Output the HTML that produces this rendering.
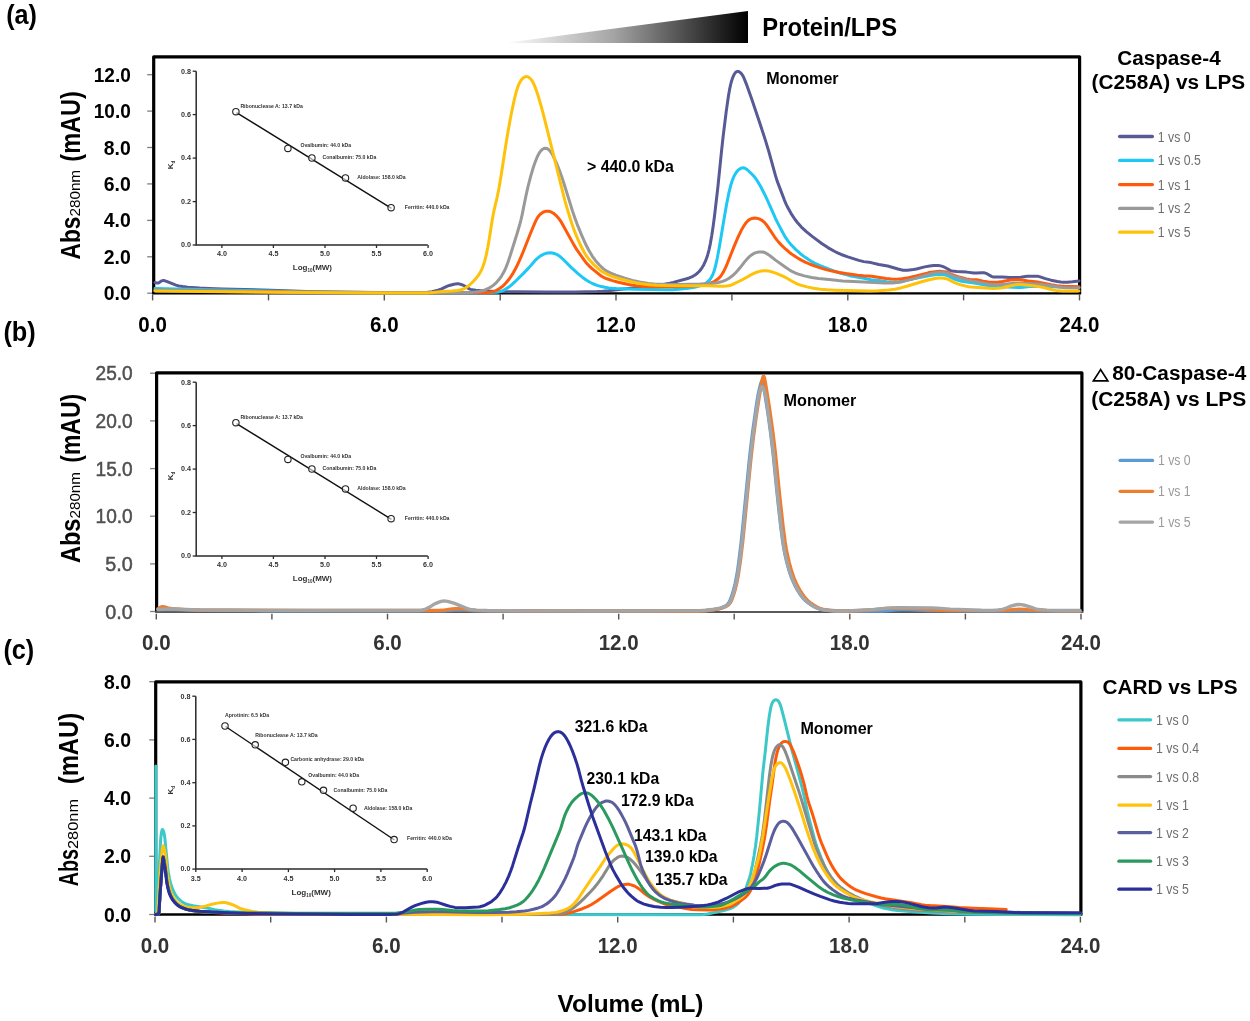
<!DOCTYPE html>
<html><head><meta charset="utf-8"><style>
html,body{margin:0;padding:0;background:#fff;}
svg{display:block;will-change:transform;font-family:"Liberation Sans",sans-serif;}
</style></head><body>
<svg width="1250" height="1021" viewBox="0 0 1250 1021">
<defs><linearGradient id="gr" x1="0" y1="0" x2="1" y2="0"><stop offset="0" stop-color="#fff"/><stop offset="0.45" stop-color="#a4a4a4"/><stop offset="1" stop-color="#000"/></linearGradient></defs>
<text x="6.2" y="23.5" font-size="27.40" font-weight="bold" fill="#000" text-anchor="start" textLength="30.8" lengthAdjust="spacingAndGlyphs">(a)</text>
<text x="3.4" y="341.4" font-size="27.50" font-weight="bold" fill="#000" text-anchor="start" textLength="32.4" lengthAdjust="spacingAndGlyphs">(b)</text>
<text x="3.4" y="658.8" font-size="27.60" font-weight="bold" fill="#000" text-anchor="start" textLength="30.9" lengthAdjust="spacingAndGlyphs">(c)</text>
<polygon points="504,43 748,11 748,43" fill="url(#gr)"/>
<text x="762.3" y="36.0" font-size="25.00" font-weight="bold" fill="#000" text-anchor="start" textLength="134.7" lengthAdjust="spacingAndGlyphs">Protein/LPS</text>
<line x1="147.2" y1="293.2" x2="152.7" y2="293.2" stroke="#7f7f7f" stroke-width="1.30"/>
<text x="130.8" y="300.2" font-size="20.30" font-weight="bold" fill="#000" text-anchor="end" textLength="27.0" lengthAdjust="spacingAndGlyphs">0.0</text>
<line x1="147.2" y1="256.8" x2="152.7" y2="256.8" stroke="#7f7f7f" stroke-width="1.30"/>
<text x="130.8" y="263.8" font-size="20.30" font-weight="bold" fill="#000" text-anchor="end" textLength="27.0" lengthAdjust="spacingAndGlyphs">2.0</text>
<line x1="147.2" y1="220.4" x2="152.7" y2="220.4" stroke="#7f7f7f" stroke-width="1.30"/>
<text x="130.8" y="227.4" font-size="20.30" font-weight="bold" fill="#000" text-anchor="end" textLength="27.0" lengthAdjust="spacingAndGlyphs">4.0</text>
<line x1="147.2" y1="183.9" x2="152.7" y2="183.9" stroke="#7f7f7f" stroke-width="1.30"/>
<text x="130.8" y="190.9" font-size="20.30" font-weight="bold" fill="#000" text-anchor="end" textLength="27.0" lengthAdjust="spacingAndGlyphs">6.0</text>
<line x1="147.2" y1="147.5" x2="152.7" y2="147.5" stroke="#7f7f7f" stroke-width="1.30"/>
<text x="130.8" y="154.5" font-size="20.30" font-weight="bold" fill="#000" text-anchor="end" textLength="27.0" lengthAdjust="spacingAndGlyphs">8.0</text>
<line x1="147.2" y1="111.1" x2="152.7" y2="111.1" stroke="#7f7f7f" stroke-width="1.30"/>
<text x="130.8" y="118.1" font-size="20.30" font-weight="bold" fill="#000" text-anchor="end" textLength="37.0" lengthAdjust="spacingAndGlyphs">10.0</text>
<line x1="147.2" y1="74.7" x2="152.7" y2="74.7" stroke="#7f7f7f" stroke-width="1.30"/>
<text x="130.8" y="81.7" font-size="20.30" font-weight="bold" fill="#000" text-anchor="end" textLength="37.0" lengthAdjust="spacingAndGlyphs">12.0</text>
<line x1="152.6" y1="294.6" x2="152.6" y2="300.4" stroke="#555" stroke-width="1.40"/>
<line x1="268.5" y1="294.6" x2="268.5" y2="300.4" stroke="#555" stroke-width="1.40"/>
<line x1="384.3" y1="294.6" x2="384.3" y2="300.4" stroke="#555" stroke-width="1.40"/>
<line x1="500.2" y1="294.6" x2="500.2" y2="300.4" stroke="#555" stroke-width="1.40"/>
<line x1="616.0" y1="294.6" x2="616.0" y2="300.4" stroke="#555" stroke-width="1.40"/>
<line x1="731.9" y1="294.6" x2="731.9" y2="300.4" stroke="#555" stroke-width="1.40"/>
<line x1="847.8" y1="294.6" x2="847.8" y2="300.4" stroke="#555" stroke-width="1.40"/>
<line x1="963.6" y1="294.6" x2="963.6" y2="300.4" stroke="#555" stroke-width="1.40"/>
<line x1="1079.5" y1="294.6" x2="1079.5" y2="300.4" stroke="#555" stroke-width="1.40"/>
<text x="152.6" y="331.7" font-size="22.60" font-weight="bold" fill="#000" text-anchor="middle" textLength="28.6" lengthAdjust="spacingAndGlyphs">0.0</text>
<text x="384.3" y="331.7" font-size="22.60" font-weight="bold" fill="#000" text-anchor="middle" textLength="28.6" lengthAdjust="spacingAndGlyphs">6.0</text>
<text x="616.0" y="331.7" font-size="22.60" font-weight="bold" fill="#000" text-anchor="middle" textLength="40.0" lengthAdjust="spacingAndGlyphs">12.0</text>
<text x="847.8" y="331.7" font-size="22.60" font-weight="bold" fill="#000" text-anchor="middle" textLength="40.0" lengthAdjust="spacingAndGlyphs">18.0</text>
<text x="1079.5" y="331.7" font-size="22.60" font-weight="bold" fill="#000" text-anchor="middle" textLength="40.0" lengthAdjust="spacingAndGlyphs">24.0</text>
<g transform="translate(79.8,259.4) rotate(-90)"><text x="0" y="0" font-size="27.3" font-weight="bold" textLength="42.8" lengthAdjust="spacingAndGlyphs">Abs</text></g>
<g transform="translate(79.8,216.6) rotate(-90)"><text x="0" y="0" font-size="15.4" textLength="46.7" lengthAdjust="spacingAndGlyphs">280nm</text></g>
<g transform="translate(79.8,161.7) rotate(-90)"><text x="0" y="0" font-size="27.3" font-weight="bold" textLength="70.5" lengthAdjust="spacingAndGlyphs">(mAU)</text></g>
<path d="M196.2,71.2 V245.0 H427.8" fill="none" stroke="#2a2a2a" stroke-width="1.5"/>
<line x1="192.7" y1="245.0" x2="196.2" y2="245.0" stroke="#2a2a2a" stroke-width="1.30"/>
<text x="191.0" y="247.3" font-size="6.60" font-weight="bold" fill="#333" text-anchor="end" textLength="10.0" lengthAdjust="spacingAndGlyphs">0.0</text>
<line x1="192.7" y1="201.6" x2="196.2" y2="201.6" stroke="#2a2a2a" stroke-width="1.30"/>
<text x="191.0" y="203.9" font-size="6.60" font-weight="bold" fill="#333" text-anchor="end" textLength="10.0" lengthAdjust="spacingAndGlyphs">0.2</text>
<line x1="192.7" y1="158.1" x2="196.2" y2="158.1" stroke="#2a2a2a" stroke-width="1.30"/>
<text x="191.0" y="160.4" font-size="6.60" font-weight="bold" fill="#333" text-anchor="end" textLength="10.0" lengthAdjust="spacingAndGlyphs">0.4</text>
<line x1="192.7" y1="114.6" x2="196.2" y2="114.6" stroke="#2a2a2a" stroke-width="1.30"/>
<text x="191.0" y="116.9" font-size="6.60" font-weight="bold" fill="#333" text-anchor="end" textLength="10.0" lengthAdjust="spacingAndGlyphs">0.6</text>
<line x1="192.7" y1="71.2" x2="196.2" y2="71.2" stroke="#2a2a2a" stroke-width="1.30"/>
<text x="191.0" y="73.5" font-size="6.60" font-weight="bold" fill="#333" text-anchor="end" textLength="10.0" lengthAdjust="spacingAndGlyphs">0.8</text>
<line x1="221.9" y1="245.0" x2="221.9" y2="248.0" stroke="#2a2a2a" stroke-width="1.30"/>
<text x="221.9" y="256.4" font-size="6.60" font-weight="bold" fill="#333" text-anchor="middle" textLength="10.0" lengthAdjust="spacingAndGlyphs">4.0</text>
<line x1="273.4" y1="245.0" x2="273.4" y2="248.0" stroke="#2a2a2a" stroke-width="1.30"/>
<text x="273.4" y="256.4" font-size="6.60" font-weight="bold" fill="#333" text-anchor="middle" textLength="10.0" lengthAdjust="spacingAndGlyphs">4.5</text>
<line x1="325.0" y1="245.0" x2="325.0" y2="248.0" stroke="#2a2a2a" stroke-width="1.30"/>
<text x="325.0" y="256.4" font-size="6.60" font-weight="bold" fill="#333" text-anchor="middle" textLength="10.0" lengthAdjust="spacingAndGlyphs">5.0</text>
<line x1="376.5" y1="245.0" x2="376.5" y2="248.0" stroke="#2a2a2a" stroke-width="1.30"/>
<text x="376.5" y="256.4" font-size="6.60" font-weight="bold" fill="#333" text-anchor="middle" textLength="10.0" lengthAdjust="spacingAndGlyphs">5.5</text>
<line x1="428.1" y1="245.0" x2="428.1" y2="248.0" stroke="#2a2a2a" stroke-width="1.30"/>
<text x="428.1" y="256.4" font-size="6.60" font-weight="bold" fill="#333" text-anchor="middle" textLength="10.0" lengthAdjust="spacingAndGlyphs">6.0</text>
<line x1="236.5" y1="112.6" x2="391.5" y2="208.3" stroke="#111" stroke-width="1.40"/>
<circle cx="235.9" cy="111.7" r="3.2" fill="#fff" fill-opacity="0.6" stroke="#222" stroke-width="1.1"/>
<circle cx="287.9" cy="148.4" r="3.2" fill="#fff" fill-opacity="0.6" stroke="#222" stroke-width="1.1"/>
<circle cx="311.9" cy="158.0" r="3.2" fill="#fff" fill-opacity="0.6" stroke="#222" stroke-width="1.1"/>
<circle cx="345.5" cy="177.9" r="3.2" fill="#fff" fill-opacity="0.6" stroke="#222" stroke-width="1.1"/>
<circle cx="391.1" cy="207.7" r="3.2" fill="#fff" fill-opacity="0.6" stroke="#222" stroke-width="1.1"/>
<text x="240.4" y="107.6" font-size="5.60" font-weight="bold" fill="#333" text-anchor="start" textLength="62.5" lengthAdjust="spacingAndGlyphs">Ribonuclease A: 13.7 kDa</text>
<text x="300.4" y="147.2" font-size="5.60" font-weight="bold" fill="#333" text-anchor="start" textLength="50.7" lengthAdjust="spacingAndGlyphs">Ovalbumin: 44.0 kDa</text>
<text x="322.5" y="159.2" font-size="5.60" font-weight="bold" fill="#333" text-anchor="start" textLength="53.8" lengthAdjust="spacingAndGlyphs">Conalbumin: 75.0 kDa</text>
<text x="357.3" y="179.2" font-size="5.60" font-weight="bold" fill="#333" text-anchor="start" textLength="48.4" lengthAdjust="spacingAndGlyphs">Aldolase: 158.0 kDa</text>
<text x="404.8" y="209.2" font-size="5.60" font-weight="bold" fill="#333" text-anchor="start" textLength="44.7" lengthAdjust="spacingAndGlyphs">Ferritin: 440.0 kDa</text>
<g transform="translate(173.0,165.0) rotate(-90)"><text x="0" y="0" font-size="8" font-weight="bold" fill="#333" text-anchor="middle">K<tspan font-size="4.5" dy="2">d</tspan></text></g>
<text x="312.4" y="269.8" font-size="8" font-weight="bold" fill="#333" text-anchor="middle">Log<tspan font-size="4.5" dy="2">10</tspan><tspan dy="-2">(MW)</tspan></text>
<text x="1169.0" y="65.2" font-size="20.00" font-weight="bold" fill="#000" text-anchor="middle" textLength="103.4" lengthAdjust="spacingAndGlyphs">Caspase-4</text>
<text x="1168.4" y="89.0" font-size="20.00" font-weight="bold" fill="#000" text-anchor="middle" textLength="153.6" lengthAdjust="spacingAndGlyphs">(C258A) vs LPS</text>
<line x1="1119.6" y1="136.5" x2="1152.4" y2="136.5" stroke="#575a94" stroke-width="3.30" stroke-linecap="round"/>
<text x="1157.8" y="141.5" font-size="14.00" font-weight="normal" fill="#6e6e6e" text-anchor="start" textLength="32.8" lengthAdjust="spacingAndGlyphs">1 vs 0</text>
<line x1="1119.6" y1="160.4" x2="1152.4" y2="160.4" stroke="#1ec8f5" stroke-width="3.30" stroke-linecap="round"/>
<text x="1157.8" y="165.4" font-size="14.00" font-weight="normal" fill="#6e6e6e" text-anchor="start" textLength="43.0" lengthAdjust="spacingAndGlyphs">1 vs 0.5</text>
<line x1="1119.6" y1="184.6" x2="1152.4" y2="184.6" stroke="#ff5a0a" stroke-width="3.30" stroke-linecap="round"/>
<text x="1157.8" y="189.6" font-size="14.00" font-weight="normal" fill="#6e6e6e" text-anchor="start" textLength="32.8" lengthAdjust="spacingAndGlyphs">1 vs 1</text>
<line x1="1119.6" y1="208.4" x2="1152.4" y2="208.4" stroke="#999999" stroke-width="3.30" stroke-linecap="round"/>
<text x="1157.8" y="213.4" font-size="14.00" font-weight="normal" fill="#6e6e6e" text-anchor="start" textLength="32.8" lengthAdjust="spacingAndGlyphs">1 vs 2</text>
<line x1="1119.6" y1="232.2" x2="1152.4" y2="232.2" stroke="#ffc20a" stroke-width="3.30" stroke-linecap="round"/>
<text x="1157.8" y="237.2" font-size="14.00" font-weight="normal" fill="#6e6e6e" text-anchor="start" textLength="32.8" lengthAdjust="spacingAndGlyphs">1 vs 5</text>
<text x="766.2" y="83.8" font-size="17.20" font-weight="bold" fill="#000" text-anchor="start" textLength="72.4" lengthAdjust="spacingAndGlyphs">Monomer</text>
<text x="587.0" y="171.9" font-size="17.00" font-weight="bold" fill="#000" text-anchor="start" textLength="86.9" lengthAdjust="spacingAndGlyphs">&gt; 440.0 kDa</text>
<line x1="150.1" y1="611.5" x2="155.6" y2="611.5" stroke="#7f7f7f" stroke-width="1.30"/>
<text x="132.7" y="618.5" font-size="20.30" font-weight="normal" fill="#505050" text-anchor="end" textLength="27.5" lengthAdjust="spacingAndGlyphs" stroke="#505050" stroke-width="0.5">0.0</text>
<line x1="150.1" y1="563.9" x2="155.6" y2="563.9" stroke="#7f7f7f" stroke-width="1.30"/>
<text x="132.7" y="570.9" font-size="20.30" font-weight="normal" fill="#505050" text-anchor="end" textLength="27.5" lengthAdjust="spacingAndGlyphs" stroke="#505050" stroke-width="0.5">5.0</text>
<line x1="150.1" y1="516.2" x2="155.6" y2="516.2" stroke="#7f7f7f" stroke-width="1.30"/>
<text x="132.7" y="523.2" font-size="20.30" font-weight="normal" fill="#505050" text-anchor="end" textLength="37.2" lengthAdjust="spacingAndGlyphs" stroke="#505050" stroke-width="0.5">10.0</text>
<line x1="150.1" y1="468.6" x2="155.6" y2="468.6" stroke="#7f7f7f" stroke-width="1.30"/>
<text x="132.7" y="475.6" font-size="20.30" font-weight="normal" fill="#505050" text-anchor="end" textLength="37.2" lengthAdjust="spacingAndGlyphs" stroke="#505050" stroke-width="0.5">15.0</text>
<line x1="150.1" y1="420.9" x2="155.6" y2="420.9" stroke="#7f7f7f" stroke-width="1.30"/>
<text x="132.7" y="427.9" font-size="20.30" font-weight="normal" fill="#505050" text-anchor="end" textLength="37.2" lengthAdjust="spacingAndGlyphs" stroke="#505050" stroke-width="0.5">20.0</text>
<line x1="150.1" y1="373.2" x2="155.6" y2="373.2" stroke="#7f7f7f" stroke-width="1.30"/>
<text x="132.7" y="380.2" font-size="20.30" font-weight="normal" fill="#505050" text-anchor="end" textLength="37.2" lengthAdjust="spacingAndGlyphs" stroke="#505050" stroke-width="0.5">25.0</text>
<line x1="156.3" y1="613.7" x2="156.3" y2="619.5" stroke="#555" stroke-width="1.40"/>
<line x1="271.9" y1="613.7" x2="271.9" y2="619.5" stroke="#555" stroke-width="1.40"/>
<line x1="387.5" y1="613.7" x2="387.5" y2="619.5" stroke="#555" stroke-width="1.40"/>
<line x1="503.1" y1="613.7" x2="503.1" y2="619.5" stroke="#555" stroke-width="1.40"/>
<line x1="618.7" y1="613.7" x2="618.7" y2="619.5" stroke="#555" stroke-width="1.40"/>
<line x1="734.2" y1="613.7" x2="734.2" y2="619.5" stroke="#555" stroke-width="1.40"/>
<line x1="849.8" y1="613.7" x2="849.8" y2="619.5" stroke="#555" stroke-width="1.40"/>
<line x1="965.4" y1="613.7" x2="965.4" y2="619.5" stroke="#555" stroke-width="1.40"/>
<line x1="1081.0" y1="613.7" x2="1081.0" y2="619.5" stroke="#555" stroke-width="1.40"/>
<text x="156.3" y="650.0" font-size="22.60" font-weight="bold" fill="#333" text-anchor="middle" textLength="28.6" lengthAdjust="spacingAndGlyphs">0.0</text>
<text x="387.5" y="650.0" font-size="22.60" font-weight="bold" fill="#333" text-anchor="middle" textLength="28.6" lengthAdjust="spacingAndGlyphs">6.0</text>
<text x="618.7" y="650.0" font-size="22.60" font-weight="bold" fill="#333" text-anchor="middle" textLength="40.0" lengthAdjust="spacingAndGlyphs">12.0</text>
<text x="849.8" y="650.0" font-size="22.60" font-weight="bold" fill="#333" text-anchor="middle" textLength="40.0" lengthAdjust="spacingAndGlyphs">18.0</text>
<text x="1081.0" y="650.0" font-size="22.60" font-weight="bold" fill="#333" text-anchor="middle" textLength="40.0" lengthAdjust="spacingAndGlyphs">24.0</text>
<g transform="translate(79.7,563.1) rotate(-90)"><text x="0" y="0" font-size="27.3" font-weight="bold" textLength="44.6" lengthAdjust="spacingAndGlyphs">Abs</text></g>
<g transform="translate(79.7,518.5) rotate(-90)"><text x="0" y="0" font-size="15.4" textLength="46.5" lengthAdjust="spacingAndGlyphs">280nm</text></g>
<g transform="translate(79.7,462.7) rotate(-90)"><text x="0" y="0" font-size="27.3" font-weight="bold" textLength="68.8" lengthAdjust="spacingAndGlyphs">(mAU)</text></g>
<path d="M196.2,382.2 V556.0 H427.8" fill="none" stroke="#2a2a2a" stroke-width="1.5"/>
<line x1="192.7" y1="556.0" x2="196.2" y2="556.0" stroke="#2a2a2a" stroke-width="1.30"/>
<text x="191.0" y="558.3" font-size="6.60" font-weight="bold" fill="#333" text-anchor="end" textLength="10.0" lengthAdjust="spacingAndGlyphs">0.0</text>
<line x1="192.7" y1="512.5" x2="196.2" y2="512.5" stroke="#2a2a2a" stroke-width="1.30"/>
<text x="191.0" y="514.8" font-size="6.60" font-weight="bold" fill="#333" text-anchor="end" textLength="10.0" lengthAdjust="spacingAndGlyphs">0.2</text>
<line x1="192.7" y1="469.1" x2="196.2" y2="469.1" stroke="#2a2a2a" stroke-width="1.30"/>
<text x="191.0" y="471.4" font-size="6.60" font-weight="bold" fill="#333" text-anchor="end" textLength="10.0" lengthAdjust="spacingAndGlyphs">0.4</text>
<line x1="192.7" y1="425.6" x2="196.2" y2="425.6" stroke="#2a2a2a" stroke-width="1.30"/>
<text x="191.0" y="427.9" font-size="6.60" font-weight="bold" fill="#333" text-anchor="end" textLength="10.0" lengthAdjust="spacingAndGlyphs">0.6</text>
<line x1="192.7" y1="382.2" x2="196.2" y2="382.2" stroke="#2a2a2a" stroke-width="1.30"/>
<text x="191.0" y="384.5" font-size="6.60" font-weight="bold" fill="#333" text-anchor="end" textLength="10.0" lengthAdjust="spacingAndGlyphs">0.8</text>
<line x1="221.9" y1="556.0" x2="221.9" y2="559.0" stroke="#2a2a2a" stroke-width="1.30"/>
<text x="221.9" y="567.4" font-size="6.60" font-weight="bold" fill="#333" text-anchor="middle" textLength="10.0" lengthAdjust="spacingAndGlyphs">4.0</text>
<line x1="273.4" y1="556.0" x2="273.4" y2="559.0" stroke="#2a2a2a" stroke-width="1.30"/>
<text x="273.4" y="567.4" font-size="6.60" font-weight="bold" fill="#333" text-anchor="middle" textLength="10.0" lengthAdjust="spacingAndGlyphs">4.5</text>
<line x1="325.0" y1="556.0" x2="325.0" y2="559.0" stroke="#2a2a2a" stroke-width="1.30"/>
<text x="325.0" y="567.4" font-size="6.60" font-weight="bold" fill="#333" text-anchor="middle" textLength="10.0" lengthAdjust="spacingAndGlyphs">5.0</text>
<line x1="376.5" y1="556.0" x2="376.5" y2="559.0" stroke="#2a2a2a" stroke-width="1.30"/>
<text x="376.5" y="567.4" font-size="6.60" font-weight="bold" fill="#333" text-anchor="middle" textLength="10.0" lengthAdjust="spacingAndGlyphs">5.5</text>
<line x1="428.1" y1="556.0" x2="428.1" y2="559.0" stroke="#2a2a2a" stroke-width="1.30"/>
<text x="428.1" y="567.4" font-size="6.60" font-weight="bold" fill="#333" text-anchor="middle" textLength="10.0" lengthAdjust="spacingAndGlyphs">6.0</text>
<line x1="236.5" y1="423.6" x2="391.5" y2="519.3" stroke="#111" stroke-width="1.40"/>
<circle cx="235.9" cy="422.7" r="3.2" fill="#fff" fill-opacity="0.6" stroke="#222" stroke-width="1.1"/>
<circle cx="287.9" cy="459.4" r="3.2" fill="#fff" fill-opacity="0.6" stroke="#222" stroke-width="1.1"/>
<circle cx="311.9" cy="469.0" r="3.2" fill="#fff" fill-opacity="0.6" stroke="#222" stroke-width="1.1"/>
<circle cx="345.5" cy="488.9" r="3.2" fill="#fff" fill-opacity="0.6" stroke="#222" stroke-width="1.1"/>
<circle cx="391.1" cy="518.7" r="3.2" fill="#fff" fill-opacity="0.6" stroke="#222" stroke-width="1.1"/>
<text x="240.4" y="418.6" font-size="5.60" font-weight="bold" fill="#333" text-anchor="start" textLength="62.5" lengthAdjust="spacingAndGlyphs">Ribonuclease A: 13.7 kDa</text>
<text x="300.4" y="458.2" font-size="5.60" font-weight="bold" fill="#333" text-anchor="start" textLength="50.7" lengthAdjust="spacingAndGlyphs">Ovalbumin: 44.0 kDa</text>
<text x="322.5" y="470.2" font-size="5.60" font-weight="bold" fill="#333" text-anchor="start" textLength="53.8" lengthAdjust="spacingAndGlyphs">Conalbumin: 75.0 kDa</text>
<text x="357.3" y="490.2" font-size="5.60" font-weight="bold" fill="#333" text-anchor="start" textLength="48.4" lengthAdjust="spacingAndGlyphs">Aldolase: 158.0 kDa</text>
<text x="404.8" y="520.2" font-size="5.60" font-weight="bold" fill="#333" text-anchor="start" textLength="44.7" lengthAdjust="spacingAndGlyphs">Ferritin: 440.0 kDa</text>
<g transform="translate(173.0,476.0) rotate(-90)"><text x="0" y="0" font-size="8" font-weight="bold" fill="#333" text-anchor="middle">K<tspan font-size="4.5" dy="2">d</tspan></text></g>
<text x="312.4" y="580.8" font-size="8" font-weight="bold" fill="#333" text-anchor="middle">Log<tspan font-size="4.5" dy="2">10</tspan><tspan dy="-2">(MW)</tspan></text>
<polygon points="1100.6,369.6 1093.4,380.9 1107.8,380.9" fill="none" stroke="#000" stroke-width="1.7" stroke-linejoin="miter"/>
<text x="1112.3" y="379.7" font-size="20.00" font-weight="bold" fill="#000" text-anchor="start" textLength="134.0" lengthAdjust="spacingAndGlyphs">80-Caspase-4</text>
<text x="1091.2" y="406.1" font-size="20.00" font-weight="bold" fill="#000" text-anchor="start" textLength="155.1" lengthAdjust="spacingAndGlyphs">(C258A) vs LPS</text>
<line x1="1120.1" y1="460.4" x2="1152.5" y2="460.4" stroke="#5b9bd5" stroke-width="3.30" stroke-linecap="round"/>
<text x="1157.9" y="465.4" font-size="14.00" font-weight="normal" fill="#9a9a9a" text-anchor="start" textLength="32.8" lengthAdjust="spacingAndGlyphs">1 vs 0</text>
<line x1="1120.1" y1="491.3" x2="1152.5" y2="491.3" stroke="#ed7d31" stroke-width="3.30" stroke-linecap="round"/>
<text x="1157.9" y="496.3" font-size="14.00" font-weight="normal" fill="#9a9a9a" text-anchor="start" textLength="32.8" lengthAdjust="spacingAndGlyphs">1 vs 1</text>
<line x1="1120.1" y1="522.1" x2="1152.5" y2="522.1" stroke="#a5a5a5" stroke-width="3.30" stroke-linecap="round"/>
<text x="1157.9" y="527.1" font-size="14.00" font-weight="normal" fill="#9a9a9a" text-anchor="start" textLength="32.8" lengthAdjust="spacingAndGlyphs">1 vs 5</text>
<text x="783.6" y="406.2" font-size="17.20" font-weight="bold" fill="#000" text-anchor="start" textLength="72.8" lengthAdjust="spacingAndGlyphs">Monomer</text>
<line x1="149.2" y1="914.5" x2="154.7" y2="914.5" stroke="#7f7f7f" stroke-width="1.30"/>
<text x="131.0" y="921.5" font-size="20.30" font-weight="bold" fill="#000" text-anchor="end" textLength="27.0" lengthAdjust="spacingAndGlyphs">0.0</text>
<line x1="149.2" y1="856.3" x2="154.7" y2="856.3" stroke="#7f7f7f" stroke-width="1.30"/>
<text x="131.0" y="863.3" font-size="20.30" font-weight="bold" fill="#000" text-anchor="end" textLength="27.0" lengthAdjust="spacingAndGlyphs">2.0</text>
<line x1="149.2" y1="798.1" x2="154.7" y2="798.1" stroke="#7f7f7f" stroke-width="1.30"/>
<text x="131.0" y="805.1" font-size="20.30" font-weight="bold" fill="#000" text-anchor="end" textLength="27.0" lengthAdjust="spacingAndGlyphs">4.0</text>
<line x1="149.2" y1="739.9" x2="154.7" y2="739.9" stroke="#7f7f7f" stroke-width="1.30"/>
<text x="131.0" y="746.9" font-size="20.30" font-weight="bold" fill="#000" text-anchor="end" textLength="27.0" lengthAdjust="spacingAndGlyphs">6.0</text>
<line x1="149.2" y1="681.7" x2="154.7" y2="681.7" stroke="#7f7f7f" stroke-width="1.30"/>
<text x="131.0" y="688.7" font-size="20.30" font-weight="bold" fill="#000" text-anchor="end" textLength="27.0" lengthAdjust="spacingAndGlyphs">8.0</text>
<line x1="155.0" y1="916.7" x2="155.0" y2="922.5" stroke="#555" stroke-width="1.40"/>
<line x1="270.7" y1="916.7" x2="270.7" y2="922.5" stroke="#555" stroke-width="1.40"/>
<line x1="386.4" y1="916.7" x2="386.4" y2="922.5" stroke="#555" stroke-width="1.40"/>
<line x1="502.0" y1="916.7" x2="502.0" y2="922.5" stroke="#555" stroke-width="1.40"/>
<line x1="617.7" y1="916.7" x2="617.7" y2="922.5" stroke="#555" stroke-width="1.40"/>
<line x1="733.4" y1="916.7" x2="733.4" y2="922.5" stroke="#555" stroke-width="1.40"/>
<line x1="849.1" y1="916.7" x2="849.1" y2="922.5" stroke="#555" stroke-width="1.40"/>
<line x1="964.8" y1="916.7" x2="964.8" y2="922.5" stroke="#555" stroke-width="1.40"/>
<line x1="1080.4" y1="916.7" x2="1080.4" y2="922.5" stroke="#555" stroke-width="1.40"/>
<text x="155.0" y="952.7" font-size="22.60" font-weight="bold" fill="#333" text-anchor="middle" textLength="28.6" lengthAdjust="spacingAndGlyphs">0.0</text>
<text x="386.4" y="952.7" font-size="22.60" font-weight="bold" fill="#333" text-anchor="middle" textLength="28.6" lengthAdjust="spacingAndGlyphs">6.0</text>
<text x="617.7" y="952.7" font-size="22.60" font-weight="bold" fill="#333" text-anchor="middle" textLength="40.0" lengthAdjust="spacingAndGlyphs">12.0</text>
<text x="849.1" y="952.7" font-size="22.60" font-weight="bold" fill="#333" text-anchor="middle" textLength="40.0" lengthAdjust="spacingAndGlyphs">18.0</text>
<text x="1080.4" y="952.7" font-size="22.60" font-weight="bold" fill="#333" text-anchor="middle" textLength="40.0" lengthAdjust="spacingAndGlyphs">24.0</text>
<g transform="translate(77.5,886.3) rotate(-90)"><text x="0" y="0" font-size="27.3" font-weight="bold" textLength="37.3" lengthAdjust="spacingAndGlyphs">Abs</text></g>
<g transform="translate(77.5,849.0) rotate(-90)"><text x="0" y="0" font-size="15.4" textLength="50.0" lengthAdjust="spacingAndGlyphs">280nm</text></g>
<g transform="translate(77.5,784.3) rotate(-90)"><text x="0" y="0" font-size="27.3" font-weight="bold" textLength="71.6" lengthAdjust="spacingAndGlyphs">(mAU)</text></g>
<text x="1102.6" y="693.9" font-size="20.00" font-weight="bold" fill="#000" text-anchor="start" textLength="134.9" lengthAdjust="spacingAndGlyphs">CARD vs LPS</text>
<line x1="1118.9" y1="719.8" x2="1150.6" y2="719.8" stroke="#3cc8c8" stroke-width="3.30" stroke-linecap="round"/>
<text x="1156.0" y="724.8" font-size="14.00" font-weight="normal" fill="#6e6e6e" text-anchor="start" textLength="32.8" lengthAdjust="spacingAndGlyphs">1 vs 0</text>
<line x1="1118.9" y1="748.4" x2="1150.6" y2="748.4" stroke="#ff5a0a" stroke-width="3.30" stroke-linecap="round"/>
<text x="1156.0" y="753.4" font-size="14.00" font-weight="normal" fill="#6e6e6e" text-anchor="start" textLength="43.0" lengthAdjust="spacingAndGlyphs">1 vs 0.4</text>
<line x1="1118.9" y1="776.6" x2="1150.6" y2="776.6" stroke="#8a8a8a" stroke-width="3.30" stroke-linecap="round"/>
<text x="1156.0" y="781.6" font-size="14.00" font-weight="normal" fill="#6e6e6e" text-anchor="start" textLength="43.0" lengthAdjust="spacingAndGlyphs">1 vs 0.8</text>
<line x1="1118.9" y1="805.1" x2="1150.6" y2="805.1" stroke="#ffc20e" stroke-width="3.30" stroke-linecap="round"/>
<text x="1156.0" y="810.1" font-size="14.00" font-weight="normal" fill="#6e6e6e" text-anchor="start" textLength="32.8" lengthAdjust="spacingAndGlyphs">1 vs 1</text>
<line x1="1118.9" y1="832.6" x2="1150.6" y2="832.6" stroke="#5c5f9e" stroke-width="3.30" stroke-linecap="round"/>
<text x="1156.0" y="837.6" font-size="14.00" font-weight="normal" fill="#6e6e6e" text-anchor="start" textLength="32.8" lengthAdjust="spacingAndGlyphs">1 vs 2</text>
<line x1="1118.9" y1="861.2" x2="1150.6" y2="861.2" stroke="#2b9a5e" stroke-width="3.30" stroke-linecap="round"/>
<text x="1156.0" y="866.2" font-size="14.00" font-weight="normal" fill="#6e6e6e" text-anchor="start" textLength="32.8" lengthAdjust="spacingAndGlyphs">1 vs 3</text>
<line x1="1118.9" y1="889.2" x2="1150.6" y2="889.2" stroke="#2b2f9a" stroke-width="3.30" stroke-linecap="round"/>
<text x="1156.0" y="894.2" font-size="14.00" font-weight="normal" fill="#6e6e6e" text-anchor="start" textLength="32.8" lengthAdjust="spacingAndGlyphs">1 vs 5</text>
<text x="800.4" y="733.6" font-size="17.20" font-weight="bold" fill="#000" text-anchor="start" textLength="72.5" lengthAdjust="spacingAndGlyphs">Monomer</text>
<text x="574.8" y="731.9" font-size="17.20" font-weight="bold" fill="#000" text-anchor="start" textLength="72.6" lengthAdjust="spacingAndGlyphs">321.6 kDa</text>
<text x="586.6" y="783.6" font-size="17.20" font-weight="bold" fill="#000" text-anchor="start" textLength="72.6" lengthAdjust="spacingAndGlyphs">230.1 kDa</text>
<text x="621.1" y="805.6" font-size="17.20" font-weight="bold" fill="#000" text-anchor="start" textLength="72.6" lengthAdjust="spacingAndGlyphs">172.9 kDa</text>
<text x="634.0" y="841.1" font-size="17.20" font-weight="bold" fill="#000" text-anchor="start" textLength="72.6" lengthAdjust="spacingAndGlyphs">143.1 kDa</text>
<text x="645.0" y="862.2" font-size="17.20" font-weight="bold" fill="#000" text-anchor="start" textLength="72.6" lengthAdjust="spacingAndGlyphs">139.0 kDa</text>
<text x="655.0" y="885.2" font-size="17.20" font-weight="bold" fill="#000" text-anchor="start" textLength="72.6" lengthAdjust="spacingAndGlyphs">135.7 kDa</text>
<path d="M195.8,696.2 V869.1 H427.2" fill="none" stroke="#2a2a2a" stroke-width="1.5"/>
<line x1="192.3" y1="869.1" x2="195.8" y2="869.1" stroke="#2a2a2a" stroke-width="1.30"/>
<text x="190.6" y="871.4" font-size="6.60" font-weight="bold" fill="#333" text-anchor="end" textLength="10.0" lengthAdjust="spacingAndGlyphs">0.0</text>
<line x1="192.3" y1="825.9" x2="195.8" y2="825.9" stroke="#2a2a2a" stroke-width="1.30"/>
<text x="190.6" y="828.2" font-size="6.60" font-weight="bold" fill="#333" text-anchor="end" textLength="10.0" lengthAdjust="spacingAndGlyphs">0.2</text>
<line x1="192.3" y1="782.7" x2="195.8" y2="782.7" stroke="#2a2a2a" stroke-width="1.30"/>
<text x="190.6" y="785.0" font-size="6.60" font-weight="bold" fill="#333" text-anchor="end" textLength="10.0" lengthAdjust="spacingAndGlyphs">0.4</text>
<line x1="192.3" y1="739.4" x2="195.8" y2="739.4" stroke="#2a2a2a" stroke-width="1.30"/>
<text x="190.6" y="741.7" font-size="6.60" font-weight="bold" fill="#333" text-anchor="end" textLength="10.0" lengthAdjust="spacingAndGlyphs">0.6</text>
<line x1="192.3" y1="696.2" x2="195.8" y2="696.2" stroke="#2a2a2a" stroke-width="1.30"/>
<text x="190.6" y="698.5" font-size="6.60" font-weight="bold" fill="#333" text-anchor="end" textLength="10.0" lengthAdjust="spacingAndGlyphs">0.8</text>
<line x1="195.8" y1="869.1" x2="195.8" y2="872.1" stroke="#2a2a2a" stroke-width="1.30"/>
<text x="195.8" y="880.5" font-size="6.60" font-weight="bold" fill="#333" text-anchor="middle" textLength="10.0" lengthAdjust="spacingAndGlyphs">3.5</text>
<line x1="242.1" y1="869.1" x2="242.1" y2="872.1" stroke="#2a2a2a" stroke-width="1.30"/>
<text x="242.1" y="880.5" font-size="6.60" font-weight="bold" fill="#333" text-anchor="middle" textLength="10.0" lengthAdjust="spacingAndGlyphs">4.0</text>
<line x1="288.4" y1="869.1" x2="288.4" y2="872.1" stroke="#2a2a2a" stroke-width="1.30"/>
<text x="288.4" y="880.5" font-size="6.60" font-weight="bold" fill="#333" text-anchor="middle" textLength="10.0" lengthAdjust="spacingAndGlyphs">4.5</text>
<line x1="334.6" y1="869.1" x2="334.6" y2="872.1" stroke="#2a2a2a" stroke-width="1.30"/>
<text x="334.6" y="880.5" font-size="6.60" font-weight="bold" fill="#333" text-anchor="middle" textLength="10.0" lengthAdjust="spacingAndGlyphs">5.0</text>
<line x1="380.9" y1="869.1" x2="380.9" y2="872.1" stroke="#2a2a2a" stroke-width="1.30"/>
<text x="380.9" y="880.5" font-size="6.60" font-weight="bold" fill="#333" text-anchor="middle" textLength="10.0" lengthAdjust="spacingAndGlyphs">5.5</text>
<line x1="427.2" y1="869.1" x2="427.2" y2="872.1" stroke="#2a2a2a" stroke-width="1.30"/>
<text x="427.2" y="880.5" font-size="6.60" font-weight="bold" fill="#333" text-anchor="middle" textLength="10.0" lengthAdjust="spacingAndGlyphs">6.0</text>
<line x1="225.5" y1="726.5" x2="394.5" y2="840.0" stroke="#111" stroke-width="1.40"/>
<circle cx="225.0" cy="726.0" r="3.2" fill="#fff" fill-opacity="0.6" stroke="#222" stroke-width="1.1"/>
<circle cx="255.2" cy="744.8" r="3.2" fill="#fff" fill-opacity="0.6" stroke="#222" stroke-width="1.1"/>
<circle cx="285.4" cy="762.3" r="3.2" fill="#fff" fill-opacity="0.6" stroke="#222" stroke-width="1.1"/>
<circle cx="301.8" cy="781.8" r="3.2" fill="#fff" fill-opacity="0.6" stroke="#222" stroke-width="1.1"/>
<circle cx="323.5" cy="790.3" r="3.2" fill="#fff" fill-opacity="0.6" stroke="#222" stroke-width="1.1"/>
<circle cx="353.1" cy="808.2" r="3.2" fill="#fff" fill-opacity="0.6" stroke="#222" stroke-width="1.1"/>
<circle cx="394.1" cy="839.6" r="3.2" fill="#fff" fill-opacity="0.6" stroke="#222" stroke-width="1.1"/>
<text x="225.0" y="716.5" font-size="5.60" font-weight="bold" fill="#333" text-anchor="start" textLength="44.1" lengthAdjust="spacingAndGlyphs">Aprotinin: 6.5 kDa</text>
<text x="255.2" y="736.7" font-size="5.60" font-weight="bold" fill="#333" text-anchor="start" textLength="62.5" lengthAdjust="spacingAndGlyphs">Ribonuclease A: 13.7 kDa</text>
<text x="290.4" y="761.0" font-size="5.60" font-weight="bold" fill="#333" text-anchor="start" textLength="73.6" lengthAdjust="spacingAndGlyphs">Carbonic anhydrase: 29.0 kDa</text>
<text x="308.3" y="777.0" font-size="5.60" font-weight="bold" fill="#333" text-anchor="start" textLength="50.7" lengthAdjust="spacingAndGlyphs">Ovalbumin: 44.0 kDa</text>
<text x="333.6" y="792.0" font-size="5.60" font-weight="bold" fill="#333" text-anchor="start" textLength="53.8" lengthAdjust="spacingAndGlyphs">Conalbumin: 75.0 kDa</text>
<text x="363.9" y="810.2" font-size="5.60" font-weight="bold" fill="#333" text-anchor="start" textLength="48.4" lengthAdjust="spacingAndGlyphs">Aldolase: 158.0 kDa</text>
<text x="407.1" y="840.4" font-size="5.60" font-weight="bold" fill="#333" text-anchor="start" textLength="44.7" lengthAdjust="spacingAndGlyphs">Ferritin: 440.0 kDa</text>
<g transform="translate(172.5,790.3) rotate(-90)"><text x="0" y="0" font-size="8" font-weight="bold" fill="#333" text-anchor="middle">K<tspan font-size="4.5" dy="2">d</tspan></text></g>
<text x="311.2" y="894.5" font-size="8" font-weight="bold" fill="#333" text-anchor="middle">Log<tspan font-size="4.5" dy="2">10</tspan><tspan dy="-2">(MW)</tspan></text>
<path d="M153.7,293.4 V56.8 H1079.6 V293.4" fill="none" stroke="#000" stroke-width="3.2" stroke-linejoin="round"/>
<line x1="152.2" y1="293.4" x2="1081.1" y2="293.4" stroke="#000" stroke-width="2.20"/>
<path d="M156.6,611.5 V372.8 H1081.9 V611.5" fill="none" stroke="#000" stroke-width="3.2" stroke-linejoin="round"/>
<line x1="155.1" y1="612.0" x2="1083.4" y2="612.0" stroke="#595959" stroke-width="2.00"/>
<path d="M155.7,914.5 V681.9 H1080.9 V914.5" fill="none" stroke="#000" stroke-width="3.2" stroke-linejoin="round"/>
<line x1="154.2" y1="914.5" x2="1082.4" y2="914.5" stroke="#000" stroke-width="2.50"/>
<path d="M155.00,282.64L157.00,283.06L158.20,283.01L159.20,282.59L161.80,280.85L162.70,280.59L163.70,280.58L164.90,280.83L166.60,281.41L176.00,285.16L178.90,285.97L182.70,286.60L187.70,287.20L199.50,288.09L209.10,288.55L222.00,289.00L270.90,290.23L313.90,291.72L348.10,292.22L376.90,292.47L406.50,292.46L427.00,292.23L429.40,292.02L431.90,291.62L438.00,290.15L441.60,288.95L446.80,286.42L449.30,285.45L454.00,284.18L455.80,283.89L457.30,283.80L458.50,283.87L459.80,284.09L462.70,285.03L464.70,286.03L468.40,288.45L469.50,288.96L470.70,289.36L472.90,289.83L475.80,290.25L483.90,290.95L495.90,291.53L516.40,291.82L546.60,292.00L575.50,291.89L597.00,291.61L602.90,291.36L608.40,290.83L621.10,289.30L639.10,287.56L648.30,286.52L660.30,284.90L669.90,283.20L673.30,282.40L685.80,279.01L689.20,277.95L691.10,277.19L692.90,276.30L694.60,275.29L696.20,274.17L697.60,273.01L698.90,271.74L700.20,270.24L701.40,268.63L702.60,266.80L703.80,264.70L705.80,260.37L707.60,255.21L709.10,249.53L710.40,243.33L711.80,235.28L713.20,225.90L714.60,215.31L717.90,186.94L721.60,150.44L723.10,136.74L726.20,111.64L728.40,96.20L729.50,89.89L730.50,85.11L731.50,81.22L732.60,77.86L733.80,75.08L735.10,72.99L735.70,72.32L736.40,71.77L737.00,71.48L737.70,71.36L738.70,71.55L739.80,72.18L741.00,73.28L742.10,74.66L743.10,76.28L744.00,78.08L746.20,83.60L751.70,98.91L758.70,119.74L764.90,138.62L768.70,151.15L775.50,175.66L777.10,180.89L784.40,200.07L786.10,204.08L787.80,207.60L791.00,213.31L794.70,219.00L798.00,223.34L801.40,227.05L806.30,231.57L812.20,236.38L821.70,243.46L827.90,247.62L834.80,251.50L838.10,253.12L841.20,254.48L847.80,256.92L858.80,260.38L863.70,261.63L871.00,262.61L878.80,264.56L887.70,266.06L898.00,269.02L901.10,269.80L903.20,270.18L905.10,270.34L907.30,270.29L913.40,269.57L916.40,268.98L924.70,266.88L929.70,265.92L933.70,265.62L938.50,265.57L940.70,265.89L943.20,266.69L945.50,267.74L949.70,270.15L950.90,270.63L952.30,271.00L956.60,271.58L966.70,272.12L973.90,272.92L976.60,272.94L982.10,272.67L984.00,272.77L985.40,273.10L986.90,273.71L991.50,276.38L992.50,276.73L993.50,276.91L1002.50,277.04L1009.80,277.38L1018.00,277.39L1020.80,277.20L1025.30,276.40L1027.30,276.17L1036.20,276.14L1037.80,276.30L1039.40,276.64L1045.40,278.67L1051.00,280.17L1057.40,281.56L1060.70,282.10L1063.50,282.26L1067.30,282.13L1072.50,281.72L1079.00,280.98" fill="none" stroke="#575a94" stroke-width="3.00" stroke-linejoin="round" stroke-linecap="round"/>
<path d="M155.00,288.41L277.30,291.30L319.60,292.02L394.50,292.66L470.80,292.90L482.90,292.85L496.80,292.17L498.60,291.96L500.10,291.65L501.50,291.20L502.90,290.59L504.90,289.51L507.50,287.89L509.50,286.52L511.30,285.11L514.50,282.20L523.20,273.66L528.50,268.12L535.20,260.41L537.10,258.57L539.20,256.87L542.00,255.03L544.40,253.89L547.40,253.03L550.10,252.72L552.50,252.96L555.20,253.76L557.50,254.86L559.90,256.46L562.60,258.80L571.10,267.36L578.30,273.88L582.00,276.97L586.20,279.92L589.90,282.24L592.90,283.75L597.10,285.35L601.30,286.58L605.00,287.34L608.80,287.95L612.00,288.29L616.30,288.55L635.10,289.19L665.90,289.78L672.60,289.74L678.50,289.37L688.00,288.27L694.40,287.24L698.40,286.28L701.90,285.16L704.40,284.06L706.60,282.70L708.60,281.01L710.30,279.00L711.80,276.58L713.10,273.78L714.20,270.70L715.20,267.24L716.30,262.73L717.40,257.55L719.60,245.58L724.50,216.17L726.70,203.67L728.80,193.19L730.70,185.53L732.00,181.31L733.30,177.87L734.70,174.93L736.20,172.48L737.80,170.49L739.50,169.04L741.30,168.14L743.00,167.85L744.20,168.00L745.40,168.45L746.60,169.19L747.90,170.29L752.00,174.25L753.90,176.26L755.80,178.64L757.70,181.48L760.90,186.99L764.10,193.19L767.50,200.45L775.50,218.47L777.80,223.15L781.80,230.80L784.30,235.40L786.20,238.48L788.30,241.37L790.90,244.44L795.60,249.36L800.40,253.70L804.80,257.08L810.40,260.74L815.00,263.33L819.50,265.44L824.00,267.24L835.60,271.54L840.00,273.02L844.80,274.42L849.60,275.66L853.90,276.58L863.90,278.18L871.00,279.71L878.90,280.53L886.60,281.68L891.60,282.10L895.80,282.26L898.70,282.02L906.90,280.15L929.80,275.51L936.40,274.57L938.70,274.39L940.70,274.36L943.90,274.68L946.90,275.39L948.70,276.11L952.40,278.07L954.50,279.01L958.10,280.26L961.50,281.18L966.70,282.11L975.90,283.27L984.90,285.09L989.00,285.76L992.20,286.15L997.70,286.52L1017.80,287.47L1021.00,287.39L1029.90,286.54L1036.50,286.23L1050.60,286.87L1079.00,287.49" fill="none" stroke="#1ec8f5" stroke-width="3.00" stroke-linejoin="round" stroke-linecap="round"/>
<path d="M155.00,290.31L290.30,292.06L371.40,292.61L421.20,292.78L479.10,292.80L486.50,292.55L489.80,292.28L491.80,291.98L494.00,291.36L496.50,290.28L499.10,288.85L501.30,287.32L503.60,285.33L506.10,282.77L508.20,280.30L510.30,277.45L512.60,273.90L514.80,270.10L516.90,266.04L519.30,260.95L522.40,253.71L529.50,235.79L533.20,226.74L535.30,221.87L536.90,218.68L538.00,216.91L539.10,215.49L540.30,214.25L541.70,213.11L543.10,212.25L544.50,211.65L545.90,211.29L547.40,211.15L548.80,211.27L550.20,211.62L551.60,212.19L553.00,212.97L554.50,214.06L555.90,215.28L557.30,216.73L558.70,218.41L560.50,220.91L562.20,223.66L573.90,244.90L576.80,249.69L584.20,260.12L586.10,262.64L589.00,265.87L592.30,268.92L601.00,275.84L603.50,277.28L606.90,278.76L612.40,280.61L618.30,282.18L628.60,284.46L636.20,285.76L639.40,286.13L643.60,286.42L653.80,286.72L674.20,286.77L682.20,286.59L690.30,286.27L696.90,285.61L703.30,284.74L706.80,284.13L709.00,283.59L710.90,282.98L712.80,282.19L714.70,281.22L717.50,279.33L719.90,277.07L721.80,274.61L723.80,271.18L725.40,267.94L727.00,264.30L734.00,246.63L737.70,237.85L740.90,231.12L742.50,228.15L743.90,225.82L745.30,223.77L746.70,222.01L747.90,220.74L749.10,219.76L750.30,219.09L751.70,218.59L753.50,218.23L755.20,218.11L757.50,218.39L760.00,219.24L762.10,220.42L764.10,222.10L765.60,223.71L767.10,225.60L774.70,237.03L776.80,239.85L779.10,242.62L782.20,245.92L785.70,249.22L789.50,252.44L793.10,255.10L797.20,257.76L801.30,260.14L805.20,262.11L809.50,264.00L815.10,266.13L821.80,268.38L827.00,269.89L832.10,271.09L837.70,272.18L845.90,273.59L857.60,275.24L863.40,275.86L871.60,276.26L886.10,278.52L891.50,279.00L895.90,279.17L898.30,279.10L900.90,278.87L908.40,277.73L916.10,276.00L928.20,272.83L931.10,272.21L937.20,271.46L939.50,271.35L941.60,271.39L944.50,271.74L947.10,272.32L949.00,273.02L953.30,275.02L955.90,275.99L960.20,277.32L966.40,278.89L970.00,279.49L974.90,279.65L976.70,279.81L983.20,281.26L988.30,281.99L992.80,282.27L998.40,282.04L1002.60,281.58L1007.90,280.40L1010.20,280.04L1015.50,279.69L1019.60,279.67L1022.10,279.92L1028.10,280.91L1037.40,281.95L1051.10,284.77L1057.10,285.66L1060.70,286.03L1064.30,286.26L1079.00,286.68" fill="none" stroke="#ff5a0a" stroke-width="3.00" stroke-linejoin="round" stroke-linecap="round"/>
<path d="M155.00,290.61L260.40,291.98L300.80,292.40L373.50,292.70L441.60,292.80L462.30,292.65L470.60,292.42L475.20,292.05L479.10,291.58L481.50,291.07L484.00,290.28L487.70,288.74L490.70,287.11L493.80,284.93L496.40,282.59L499.00,279.60L501.50,276.07L503.70,272.28L505.70,268.09L507.80,262.72L510.30,255.32L517.20,233.23L519.60,225.03L520.90,220.06L522.10,214.88L525.80,196.54L528.00,186.68L530.80,175.81L533.60,166.51L535.10,162.24L536.70,158.21L538.20,154.92L539.50,152.60L540.80,150.85L542.30,149.44L543.90,148.50L544.70,148.25L545.40,148.17L546.70,148.41L548.00,149.13L549.40,150.35L550.80,152.00L552.00,153.82L553.20,156.01L556.50,163.14L559.40,170.21L562.00,177.41L564.20,184.21L572.70,211.61L574.80,217.83L577.20,224.31L581.40,234.63L585.70,244.30L588.80,250.31L592.40,256.26L595.60,260.71L599.40,265.02L603.20,268.60L604.90,269.93L606.70,271.12L610.70,273.20L615.70,275.21L624.90,278.21L632.40,280.37L639.50,282.00L648.20,283.45L654.50,283.97L664.90,284.43L680.10,284.44L700.10,284.04L711.90,283.43L715.40,283.06L718.30,282.53L722.60,281.35L725.90,280.05L729.10,278.22L732.40,275.79L735.00,273.41L738.10,270.08L740.20,267.55L744.40,262.12L747.10,258.99L749.40,256.68L751.60,254.90L753.90,253.48L756.00,252.60L758.50,252.08L761.40,251.89L762.90,252.04L764.40,252.46L766.00,253.20L768.00,254.37L770.30,255.97L775.50,260.10L785.90,267.54L790.10,270.37L793.10,271.97L795.60,273.04L798.40,274.08L804.30,275.84L811.70,277.49L818.50,278.51L829.10,279.52L838.20,280.54L842.70,280.89L884.70,283.02L888.40,283.08L892.40,282.95L897.10,282.59L900.80,281.95L914.10,278.66L930.90,273.68L937.00,272.43L939.10,272.20L941.00,272.18L943.90,272.49L946.90,273.16L948.60,273.77L952.70,275.67L955.20,276.62L959.10,277.80L967.80,280.16L970.60,280.76L976.70,281.71L987.80,283.90L990.40,284.31L993.60,284.49L1001.90,284.46L1014.10,283.31L1017.80,283.14L1021.10,283.17L1036.00,283.97L1040.60,284.35L1047.60,285.20L1059.50,287.08L1062.50,287.44L1068.00,287.71L1079.00,287.98" fill="none" stroke="#999999" stroke-width="3.00" stroke-linejoin="round" stroke-linecap="round"/>
<path d="M155.00,291.01L225.00,291.63L309.10,292.54L378.10,292.90L425.70,292.99L430.60,292.77L440.00,291.81L452.00,290.95L457.30,290.41L459.90,289.99L461.90,289.49L464.00,288.72L465.80,287.81L468.40,285.99L471.50,283.19L475.60,278.85L478.30,275.50L480.10,272.68L481.80,269.31L483.30,265.54L484.60,261.48L486.20,255.20L487.80,247.31L489.20,239.13L492.10,220.79L493.40,213.52L494.50,208.32L497.20,197.00L499.00,187.96L501.20,174.98L505.60,146.26L508.10,131.03L511.00,115.22L514.00,100.91L515.50,94.61L516.80,89.91L518.20,85.83L519.60,82.68L521.10,80.20L522.80,78.28L523.80,77.49L524.70,76.97L525.60,76.65L526.40,76.56L527.10,76.63L527.90,76.88L529.40,77.79L530.90,79.24L532.30,81.21L533.60,83.67L535.10,87.14L536.60,91.17L538.20,96.02L540.90,105.22L544.20,117.71L565.00,201.05L568.30,212.30L571.80,223.56L574.10,230.13L576.60,236.33L580.50,245.05L583.90,251.70L585.40,254.25L586.80,256.36L588.30,258.37L590.10,260.52L592.70,263.36L595.30,265.96L598.10,268.49L600.50,270.40L602.80,271.94L605.50,273.46L608.40,274.89L611.40,276.15L614.60,277.28L618.40,278.43L626.20,280.54L632.10,281.98L639.90,283.57L645.10,284.34L649.20,284.81L656.60,285.24L666.20,285.54L682.80,285.68L708.60,285.71L719.40,286.23L723.20,286.25L726.00,286.06L728.60,285.73L730.40,285.33L732.10,284.72L742.30,279.73L751.80,274.41L754.50,273.09L756.50,272.26L758.60,271.63L761.30,271.08L763.90,270.74L766.00,270.68L768.10,270.89L770.60,271.46L774.30,272.58L777.50,273.80L782.30,275.89L785.30,277.32L792.00,281.25L795.40,283.04L798.30,284.32L801.40,285.41L807.00,286.89L813.50,288.20L820.50,289.17L827.30,289.79L835.80,290.16L869.20,291.09L877.90,290.87L888.70,290.08L894.90,289.17L900.70,287.91L906.80,286.23L920.70,282.00L929.10,279.75L936.40,278.30L938.60,278.03L940.50,277.96L943.70,278.21L946.70,278.83L948.80,279.66L953.90,282.37L958.30,284.06L961.60,285.07L965.80,286.15L968.60,286.73L971.10,287.06L988.90,288.29L993.00,288.38L997.30,288.26L1000.70,288.03L1002.90,287.72L1009.60,285.96L1014.80,284.94L1017.60,284.60L1020.30,284.57L1033.40,285.83L1037.80,286.40L1044.60,287.82L1052.10,289.78L1056.00,290.39L1059.60,290.72L1063.10,290.89L1079.00,291.09" fill="none" stroke="#ffc20a" stroke-width="3.00" stroke-linejoin="round" stroke-linecap="round"/>
<path d="M158.00,609.50L174.80,609.55L200.30,610.30L273.60,610.76L439.70,610.80L444.20,610.70L455.10,610.12L460.10,610.01L465.10,610.13L476.00,610.71L480.90,610.80L699.20,611.00L704.70,610.81L710.60,610.15L718.10,608.81L720.20,608.29L722.10,607.66L724.90,606.35L727.10,604.82L727.90,604.01L728.60,603.10L729.90,600.77L731.70,596.21L733.60,590.00L735.20,583.66L736.60,576.67L737.70,569.95L738.80,562.28L741.10,543.58L742.70,528.18L749.10,462.57L750.90,446.26L752.80,431.07L756.60,404.15L758.00,395.40L759.80,387.35L760.80,383.53L761.70,381.17L762.10,380.60L762.50,380.40L762.70,380.60L762.90,381.14L763.40,383.71L764.60,392.38L767.80,412.35L770.70,433.18L773.20,454.31L777.50,496.95L780.60,525.06L782.80,542.05L783.80,548.24L784.90,553.98L787.00,563.00L789.30,571.16L791.70,578.11L794.20,583.88L795.90,587.20L797.80,590.54L799.60,593.41L801.40,595.96L803.10,598.09L804.80,599.92L806.50,601.47L808.60,603.09L811.80,605.27L814.70,606.98L817.40,608.26L820.00,609.16L822.60,609.71L827.20,610.27L832.30,610.71L837.00,610.95L881.00,610.98L885.50,610.71L895.70,609.69L900.70,609.51L908.10,609.66L928.00,610.46L960.40,610.83L993.90,611.00L1080.00,611.00" fill="none" stroke="#5b9bd5" stroke-width="3.40" stroke-linejoin="round" stroke-linecap="round"/>
<path d="M158.00,608.64L161.00,607.01L161.80,606.76L162.60,606.68L164.40,606.94L169.00,608.28L172.20,608.70L185.60,609.62L199.20,609.99L307.10,610.38L438.80,610.50L442.60,610.31L448.60,609.38L452.30,608.97L455.50,608.70L457.90,608.62L461.60,608.83L475.70,610.37L480.70,610.60L575.70,610.91L699.00,611.00L705.10,610.79L711.60,610.08L719.20,608.79L721.50,608.22L723.60,607.51L726.60,606.10L727.80,605.34L728.70,604.62L730.10,602.98L731.50,600.38L733.30,595.65L735.30,588.92L736.90,582.30L738.20,575.53L740.40,560.80L742.60,542.67L744.10,528.18L750.30,464.50L751.90,449.70L753.60,435.66L756.20,416.47L759.10,397.48L762.20,379.93L762.90,377.30L763.30,376.49L763.60,376.30L764.00,376.71L764.40,377.85L765.30,382.31L769.20,406.36L772.50,429.55L774.10,442.11L775.40,453.40L779.90,497.90L783.00,525.91L785.10,542.05L786.10,548.24L787.20,553.98L789.20,562.61L791.50,570.84L793.80,577.59L796.30,583.47L797.90,586.64L799.80,590.04L801.60,592.95L803.40,595.56L805.10,597.73L806.80,599.62L808.50,601.21L810.50,602.80L813.90,605.16L816.90,606.95L819.70,608.29L822.30,609.18L824.90,609.70L829.60,610.22L835.20,610.67L840.60,610.93L850.10,610.94L862.30,610.43L872.40,609.82L885.40,608.41L891.10,608.20L901.60,608.32L914.00,608.63L938.60,610.13L948.10,610.48L1000.60,610.59L1005.00,610.37L1014.90,609.46L1019.40,609.31L1024.30,609.49L1034.90,610.35L1039.60,610.58L1080.00,611.00" fill="none" stroke="#ed7d31" stroke-width="3.40" stroke-linejoin="round" stroke-linecap="round"/>
<path d="M158.00,609.48L166.80,609.07L171.70,609.01L178.00,609.16L199.00,609.98L261.50,610.43L419.40,610.48L421.10,610.36L422.70,610.03L424.40,609.48L426.80,608.50L429.60,607.12L434.60,603.93L437.60,602.60L441.20,601.43L442.70,601.15L444.10,601.06L445.70,601.14L447.60,601.44L453.00,602.82L455.20,603.61L460.50,605.90L466.00,608.04L468.30,608.85L470.20,609.36L472.50,609.73L476.70,610.08L487.20,610.56L535.30,610.88L595.40,611.00L653.10,610.91L699.70,610.60L705.40,610.31L711.60,609.55L719.50,608.12L721.80,607.56L723.80,606.91L726.50,605.69L728.30,604.42L729.00,603.68L729.70,602.71L731.00,600.22L732.80,595.39L734.70,588.93L736.30,582.31L737.60,575.53L739.80,560.80L742.00,542.67L743.50,528.18L749.80,463.53L751.40,448.83L753.20,434.12L755.40,417.88L758.60,396.12L759.20,393.35L760.50,389.18L761.30,387.39L761.70,386.91L762.00,386.80L762.30,386.89L762.70,387.27L763.50,388.73L765.00,393.00L765.50,395.01L766.40,400.35L769.60,422.77L771.50,437.15L773.20,451.57L778.00,498.85L781.30,528.42L783.40,544.02L784.40,549.91L785.60,555.85L787.80,564.91L790.10,572.73L792.40,579.13L795.00,584.90L796.80,588.29L798.70,591.53L800.50,594.29L802.30,596.75L804.00,598.77L805.70,600.50L807.40,601.96L809.70,603.66L812.70,605.65L815.50,607.24L818.10,608.42L820.60,609.24L823.20,609.75L828.20,610.35L833.00,610.75L837.50,610.96L847.30,610.89L860.50,610.31L873.80,609.55L892.10,607.90L900.20,607.60L931.70,607.84L937.00,608.11L950.10,609.10L966.00,609.81L981.40,610.31L992.50,610.34L998.00,609.96L1002.50,609.35L1004.60,608.72L1009.40,606.73L1013.30,605.49L1016.40,604.71L1019.00,604.46L1021.40,604.64L1024.40,605.26L1029.30,606.61L1035.50,608.84L1037.20,609.24L1039.20,609.50L1047.10,610.10L1054.90,610.43L1080.00,610.50" fill="none" stroke="#a5a5a5" stroke-width="3.40" stroke-linejoin="round" stroke-linecap="round"/>
<path d="M155.8,766 L155.8,911 L157.2,912.4L157.90,891.54L160.60,840.80L160.90,837.00L161.50,832.19L162.00,830.38L162.30,829.74L162.50,829.60L162.70,829.70L163.00,830.14L163.70,831.89L164.20,834.08L164.80,837.68L167.60,866.87L168.40,872.64L169.40,878.26L170.50,882.92L172.20,888.13L174.00,892.29L176.00,895.69L178.30,898.57L180.80,900.86L182.30,901.94L183.80,902.85L185.30,903.60L187.00,904.26L189.80,905.08L193.10,905.81L207.00,908.03L214.80,909.67L218.30,910.24L223.90,910.94L229.30,911.45L237.40,911.96L246.30,912.37L278.00,913.25L308.90,913.69L352.60,914.01L399.80,914.20L700.10,914.70L703.70,914.58L707.40,914.04L721.60,911.15L724.80,910.34L727.80,909.42L730.20,908.52L732.30,907.57L734.10,906.59L735.80,905.45L737.50,904.08L739.00,902.62L740.30,901.09L741.50,899.38L743.00,896.72L744.30,893.61L747.30,884.12L749.50,877.91L750.60,873.82L752.40,864.99L754.00,856.06L755.50,846.21L756.70,836.88L759.50,809.89L762.90,771.91L765.20,752.09L767.70,728.45L769.20,716.62L770.60,708.43L771.30,705.56L772.00,703.48L772.80,701.86L773.70,700.73L774.80,700.02L775.90,699.80L776.70,699.94L777.50,700.33L778.20,700.92L778.90,701.82L780.10,704.25L781.40,708.28L784.90,721.93L791.50,748.53L798.30,773.25L802.30,788.43L804.10,796.09L807.20,810.86L808.90,817.93L814.30,838.42L815.50,842.48L816.90,846.66L821.00,857.45L823.70,864.07L825.90,868.70L828.60,873.51L832.10,878.77L836.20,883.93L839.50,887.32L841.30,888.85L843.40,890.42L845.80,892.03L848.70,893.79L854.80,897.07L863.40,900.99L871.40,904.20L878.60,906.64L884.30,908.22L891.20,909.65L897.80,910.52L912.70,911.77L931.20,912.93L942.60,913.44L963.80,914.11L974.20,914.29L998.30,914.47L1080.00,914.80" fill="none" stroke="#3cc8c8" stroke-width="3.00" stroke-linejoin="round" stroke-linecap="round"/>
<path d="M155.50,914.50L158.00,913.87L158.80,913.40L158.90,913.06L159.20,909.45L159.90,896.20L161.10,879.45L162.60,861.78L163.00,858.78L163.30,858.00L163.60,858.31L163.90,859.18L164.50,862.15L165.80,870.70L167.10,882.07L168.30,888.00L169.30,891.61L170.30,894.33L171.80,897.46L173.50,900.22L175.60,902.85L178.10,905.29L180.30,906.87L182.90,908.14L186.40,909.40L189.90,910.27L194.90,911.04L200.90,911.68L207.00,912.14L217.20,912.70L237.10,913.50L256.00,913.89L285.90,914.24L382.10,914.42L527.80,914.50L549.00,914.47L562.50,914.25L564.50,914.03L566.70,913.60L574.70,911.39L582.40,908.73L587.40,906.67L591.10,904.70L596.30,901.40L610.00,891.76L616.80,887.24L619.10,886.13L622.10,885.07L624.80,884.42L627.10,884.16L629.10,884.34L631.30,884.85L633.70,885.72L635.80,886.75L637.70,887.95L640.00,889.63L644.60,893.57L646.60,895.09L649.90,897.21L653.30,899.05L657.30,900.87L664.30,903.74L667.20,904.75L670.40,905.60L675.30,906.64L688.40,909.05L691.90,909.45L697.80,909.73L707.70,909.99L713.30,909.88L716.30,909.60L719.90,909.10L723.90,908.41L726.50,907.81L729.00,907.03L731.60,906.07L733.50,905.24L735.40,904.24L738.00,902.64L741.50,900.21L744.10,898.29L745.90,896.76L748.20,894.28L750.10,891.39L752.30,886.96L754.30,881.91L755.40,878.56L756.50,874.71L759.40,862.97L762.00,850.99L764.50,838.20L766.70,823.90L769.80,800.17L772.30,782.92L774.60,765.65L775.40,760.56L776.30,755.89L777.10,752.58L778.00,749.62L779.00,747.07L780.10,744.95L781.20,743.38L782.40,742.25L783.60,741.64L785.00,741.42L786.50,741.64L787.80,742.18L788.90,743.04L789.90,744.28L791.00,746.17L792.40,749.11L793.90,752.62L795.40,756.55L798.90,766.56L801.60,775.12L804.10,784.20L807.00,796.51L808.10,800.73L809.20,804.31L812.60,814.43L818.60,834.82L819.90,838.73L821.40,842.74L826.40,854.65L828.80,859.85L831.50,865.04L833.90,869.13L836.60,873.17L839.10,876.47L841.50,879.18L844.40,881.94L847.70,884.62L850.60,886.72L853.10,888.33L855.30,889.53L857.90,890.71L861.50,892.11L866.50,893.83L876.40,896.70L881.20,897.94L885.10,898.73L911.60,902.64L921.50,904.68L925.40,905.17L930.30,905.59L950.40,906.66L959.40,907.50L964.70,907.85L973.50,908.25L988.40,908.64L1006.30,909.48" fill="none" stroke="#ff5a0a" stroke-width="3.00" stroke-linejoin="round" stroke-linecap="round"/>
<path d="M155.50,914.50L158.00,913.87L158.80,913.40L158.90,913.05L159.20,909.41L159.90,896.00L161.10,878.89L162.50,861.66L162.90,858.36L163.20,857.50L163.40,857.66L163.70,858.45L164.30,861.47L165.60,870.43L166.90,881.76L168.10,887.77L169.20,891.77L170.30,894.72L171.80,897.84L173.50,900.54L175.60,903.08L178.10,905.39L180.30,906.85L183.20,908.15L186.70,909.32L190.30,910.15L195.70,910.94L201.90,911.57L218.80,912.58L238.90,913.34L266.90,913.89L293.70,914.18L540.30,914.40L550.60,914.14L560.40,913.43L562.60,913.00L564.90,912.26L568.00,910.94L570.90,909.48L572.70,908.33L574.90,906.68L578.00,904.16L580.50,901.92L584.60,897.91L590.80,891.46L594.00,887.95L596.60,884.82L599.70,880.68L603.20,875.59L609.40,865.45L610.80,863.56L612.40,861.67L614.70,859.42L617.20,857.69L618.60,856.93L619.80,856.43L620.80,856.17L621.90,856.07L623.20,856.15L624.80,856.43L626.20,856.80L627.40,857.28L629.50,858.66L632.50,861.31L635.20,864.25L639.30,869.42L643.90,875.88L649.60,884.47L651.70,887.23L654.00,889.97L656.40,892.40L659.20,894.65L662.30,896.66L665.60,898.35L668.30,899.50L671.20,900.54L674.20,901.42L677.70,902.29L686.60,904.09L698.50,906.15L701.70,906.60L705.50,906.80L717.30,906.71L722.30,906.12L728.10,904.92L729.90,904.32L731.70,903.48L737.20,900.18L740.90,897.59L742.50,896.22L743.80,894.92L745.00,893.48L746.30,891.63L749.10,886.84L751.30,882.24L753.10,877.40L755.00,870.54L757.90,857.91L760.60,844.94L762.30,835.41L763.40,827.84L764.50,819.11L769.30,776.73L770.70,766.60L771.90,759.70L772.70,756.11L773.50,753.20L774.30,750.87L775.20,748.84L776.20,747.17L777.30,745.89L778.50,745.06L779.60,744.80L780.60,744.98L781.50,745.47L782.30,746.23L783.20,747.46L784.10,749.05L785.10,751.17L787.40,757.01L799.90,794.36L814.80,844.21L816.00,847.59L817.50,851.31L822.50,862.29L825.30,867.92L827.80,872.27L831.00,877.09L834.10,881.01L837.50,884.53L841.30,887.82L845.40,890.80L850.10,893.67L856.00,896.73L862.00,899.30L869.50,902.08L876.00,903.97L884.00,905.82L891.80,907.25L903.90,908.95L914.40,910.08L923.70,910.72L938.50,911.49L952.20,912.03L966.20,912.42L1004.80,913.04L1080.00,913.80" fill="none" stroke="#8a8a8a" stroke-width="3.00" stroke-linejoin="round" stroke-linecap="round"/>
<path d="M155.50,914.00L156.80,912.96L157.40,912.18L157.60,911.66L157.80,910.18L158.30,902.85L159.40,881.47L160.60,865.37L161.10,859.86L162.20,849.94L162.70,846.74L162.90,846.05L163.10,845.80L163.30,845.93L163.50,846.30L163.90,847.54L164.60,850.44L165.10,853.30L166.00,860.24L167.30,873.90L168.70,883.37L169.80,888.32L170.70,891.26L171.70,893.97L173.00,896.72L174.60,899.31L176.50,901.68L178.50,903.57L180.50,904.86L183.40,906.14L186.10,907.00L188.70,907.45L195.10,907.78L197.00,907.76L198.60,907.60L205.30,906.09L212.10,904.23L215.90,903.38L220.10,902.64L223.30,902.43L224.70,902.52L226.20,902.77L229.80,903.78L233.70,905.19L239.00,907.90L241.10,908.80L244.50,909.81L249.10,910.82L254.60,911.86L257.90,912.27L266.90,912.76L277.60,913.16L297.10,913.56L331.20,913.91L441.70,914.59L484.70,914.69L505.20,914.52L526.20,914.14L550.10,912.88L555.80,912.38L558.10,911.94L560.60,911.26L564.00,910.12L566.50,909.10L568.60,908.03L570.50,906.86L572.00,905.70L573.60,904.18L576.10,901.35L578.40,898.30L592.30,877.54L599.10,868.12L605.20,858.99L609.00,853.96L613.70,848.48L616.00,846.25L617.50,845.25L619.20,844.43L620.60,844.00L621.90,843.87L623.20,843.95L624.80,844.22L626.20,844.60L627.40,845.08L628.50,845.73L629.60,846.57L630.70,847.59L631.70,848.72L633.50,851.42L636.20,856.39L645.70,875.34L648.20,879.71L650.50,883.31L654.00,888.06L657.20,891.59L659.10,893.37L660.90,894.87L665.00,897.69L668.00,899.32L670.90,900.38L675.90,901.65L686.10,904.50L694.40,906.46L697.80,907.09L701.60,907.39L715.60,907.37L719.30,907.00L723.60,906.13L728.40,904.82L731.50,903.51L734.10,902.07L738.80,899.20L740.80,897.84L742.40,896.56L743.60,895.41L744.60,894.28L746.70,891.21L748.90,887.13L751.00,882.30L753.00,876.65L757.80,860.80L758.90,856.56L760.20,850.51L762.80,836.49L768.60,798.58L771.60,780.30L773.10,772.82L773.70,770.58L774.40,768.50L775.10,766.90L775.90,765.51L776.80,764.39L777.90,763.46L779.10,762.83L780.10,762.63L781.00,762.79L781.80,763.25L782.70,764.09L783.80,765.46L785.60,768.42L787.50,772.78L791.30,782.72L794.30,791.24L800.50,809.99L806.30,828.81L810.70,841.66L813.10,848.13L815.40,853.78L817.90,859.40L820.20,864.00L823.30,869.46L826.70,874.73L830.70,880.33L833.70,883.85L836.60,886.50L840.20,889.17L846.00,892.86L850.80,895.53L853.50,896.79L856.30,897.89L859.20,898.85L862.70,899.85L870.50,901.70L887.80,905.34L894.40,906.47L901.20,907.32L910.00,908.18L923.10,909.24L936.60,910.24L947.20,910.87L963.20,911.52L980.50,912.06L1015.50,912.75L1080.00,913.50" fill="none" stroke="#ffc20e" stroke-width="3.00" stroke-linejoin="round" stroke-linecap="round"/>
<path d="M155.50,914.50L158.00,913.87L158.80,913.40L158.90,913.05L159.20,909.41L159.90,896.00L161.10,878.89L162.50,861.66L162.90,858.36L163.20,857.50L163.40,857.66L163.70,858.45L164.30,861.47L165.60,870.43L166.90,881.76L167.70,886.00L168.60,889.73L169.50,892.66L170.70,895.63L172.00,898.19L173.60,900.68L175.50,902.98L177.70,905.07L179.90,906.63L182.70,907.96L186.20,909.18L189.50,910.00L193.60,910.67L201.30,911.54L209.90,912.10L227.90,912.83L245.80,913.25L294.10,913.59L389.90,913.50L396.00,913.39L403.90,913.05L414.40,912.27L431.60,911.82L444.30,911.87L477.30,912.49L493.40,912.45L508.70,912.25L516.20,911.83L524.60,911.03L528.60,910.37L534.30,909.05L538.20,907.96L541.40,906.80L543.90,905.59L546.50,903.96L549.50,901.71L552.00,899.42L554.60,896.54L556.80,893.57L559.40,889.36L562.50,883.80L565.00,878.84L567.40,873.59L572.10,862.10L573.90,857.42L575.20,853.46L577.30,846.14L578.40,843.02L584.60,828.08L586.90,823.15L589.40,818.30L591.80,814.11L594.50,809.87L596.30,807.42L598.20,805.34L600.30,803.52L602.20,802.35L604.90,801.31L606.00,801.07L607.10,800.98L609.10,801.25L611.40,802.08L613.00,803.03L614.60,804.50L616.80,807.12L618.70,809.83L621.10,813.87L623.80,818.86L625.80,822.92L627.60,826.89L635.50,845.80L637.20,851.18L640.50,864.24L641.40,867.09L642.50,870.04L644.50,874.65L646.60,878.97L648.70,882.74L650.90,886.20L653.20,889.23L655.90,892.16L658.50,894.45L661.50,896.55L664.70,898.33L668.40,899.95L672.30,901.28L676.90,902.52L681.00,903.39L685.90,904.23L694.20,905.35L697.60,905.70L700.90,905.79L707.10,905.68L712.40,905.47L715.40,905.16L719.30,904.43L724.40,903.15L727.30,902.28L730.20,901.18L734.70,899.14L738.50,897.17L742.10,895.00L745.40,892.68L747.30,891.13L749.00,889.55L750.60,887.83L752.00,886.09L753.50,883.96L755.10,881.39L756.50,878.89L757.80,876.27L761.00,868.77L764.10,860.85L766.30,854.50L772.20,835.92L774.00,831.24L775.80,827.43L777.60,824.59L778.60,823.40L779.50,822.57L780.40,821.99L781.30,821.62L782.50,821.36L783.60,821.29L784.60,821.41L785.70,821.74L786.60,822.17L787.50,822.79L789.50,824.84L791.80,827.90L793.70,830.95L798.20,838.73L810.80,861.60L813.60,866.45L816.30,870.81L819.10,875.02L822.10,879.31L824.30,882.12L826.70,884.69L829.60,887.30L832.90,889.87L837.10,892.82L839.70,894.41L842.00,895.59L845.20,896.92L848.50,898.06L851.80,898.97L855.10,899.66L874.80,903.18L884.90,904.69L894.30,905.88L903.80,906.88L916.00,907.98L927.60,908.84L941.30,909.67L956.40,910.42L991.30,911.76L1021.90,912.48L1080.00,913.49" fill="none" stroke="#5c5f9e" stroke-width="3.00" stroke-linejoin="round" stroke-linecap="round"/>
<path d="M155.50,914.50L158.00,913.87L158.80,913.40L158.90,913.05L159.20,909.41L159.90,896.00L161.10,878.89L162.50,861.66L162.90,858.36L163.20,857.50L163.40,857.66L163.70,858.45L164.30,861.47L165.60,870.43L166.90,881.76L167.70,886.00L168.60,889.73L169.50,892.66L170.60,895.41L171.90,898.02L173.50,900.54L175.40,902.87L177.60,904.99L179.80,906.57L182.50,907.87L186.00,909.12L189.30,909.96L193.10,910.60L200.30,911.46L207.40,911.97L224.20,912.56L241.80,912.92L290.20,913.19L390.80,913.19L396.70,913.00L401.70,912.61L408.80,911.35L415.50,909.92L419.10,909.52L428.80,909.34L437.70,909.33L442.30,909.56L452.60,910.47L457.10,910.75L470.70,911.03L481.50,911.08L488.50,910.70L499.50,909.59L505.30,908.72L509.60,907.73L513.60,906.43L517.60,904.84L520.50,903.38L522.90,901.81L525.20,899.75L528.10,896.55L530.60,893.39L533.10,889.78L536.00,885.09L538.80,879.94L541.40,874.63L544.50,867.64L559.30,832.15L560.90,827.70L563.40,819.45L564.50,816.18L566.00,812.49L567.80,808.82L569.70,805.49L571.50,802.75L573.10,800.74L574.90,798.90L578.70,795.50L580.40,794.25L581.60,793.61L582.80,793.13L583.90,792.86L584.90,792.77L587.20,793.03L589.20,793.67L590.80,794.66L593.10,796.64L595.70,799.25L598.60,802.70L601.30,806.36L603.80,810.22L608.20,818.20L612.90,827.62L622.10,847.76L628.50,862.28L632.30,870.27L635.00,875.51L637.50,880.04L639.90,883.98L642.30,887.55L644.70,890.72L646.80,893.20L648.50,894.88L650.40,896.37L653.50,898.28L658.40,900.81L661.20,901.99L664.00,902.80L667.90,903.61L672.40,904.25L696.50,906.71L699.90,906.95L705.40,906.93L711.90,906.54L718.70,905.84L720.30,905.55L721.70,905.16L723.50,904.46L725.50,903.50L734.30,898.59L745.10,891.95L750.80,888.73L753.00,887.36L755.20,885.67L759.20,881.89L762.80,879.20L764.10,878.08L765.60,876.35L768.20,872.62L769.40,871.10L771.10,869.34L773.10,867.61L775.70,865.82L778.40,864.43L781.40,863.52L782.60,863.32L783.80,863.26L786.20,863.58L789.30,864.42L791.80,865.48L794.30,866.93L799.60,870.84L805.70,876.08L818.20,886.39L821.20,888.50L824.20,890.41L826.80,891.88L829.60,893.24L833.30,894.83L837.00,896.20L840.90,897.43L845.30,898.60L853.40,900.36L871.50,903.56L877.20,904.38L882.10,904.76L885.80,904.75L894.40,904.32L898.80,904.47L906.30,905.44L916.50,907.92L923.70,909.21L927.70,909.76L931.60,909.99L948.10,910.07L951.20,910.34L959.90,911.44L972.80,912.25L981.10,912.52L1005.80,912.90L1080.00,913.50" fill="none" stroke="#2b9a5e" stroke-width="3.00" stroke-linejoin="round" stroke-linecap="round"/>
<path d="M155.50,914.80L157.90,914.05L158.80,913.40L158.90,913.04L159.20,909.42L159.90,896.20L162.00,867.70L162.80,858.32L163.10,856.80L163.30,857.39L163.90,862.00L165.20,869.30L166.60,881.31L167.30,885.42L168.10,889.11L169.00,892.40L169.90,894.83L171.10,897.37L172.70,899.96L174.60,902.34L176.80,904.55L179.00,906.23L181.30,907.42L184.70,908.69L188.00,909.60L191.40,910.24L199.50,911.16L212.30,912.07L231.60,912.96L246.60,913.43L268.40,913.74L350.10,914.47L375.70,914.60L388.80,914.53L396.20,914.31L397.50,914.15L398.70,913.85L400.50,913.16L403.50,911.78L411.80,907.13L415.00,905.68L418.60,904.40L423.30,902.91L426.10,902.31L429.40,901.84L431.10,901.73L432.80,901.77L437.00,902.32L439.00,902.85L446.20,905.24L450.10,906.37L454.90,907.40L458.00,907.78L465.30,907.85L477.90,906.94L480.00,906.67L481.60,906.34L483.30,905.80L485.10,905.05L489.20,902.96L492.00,901.17L495.00,898.71L497.40,896.16L500.20,892.30L503.20,887.42L506.00,882.08L508.60,876.35L510.60,871.31L512.50,865.89L518.40,846.99L523.00,833.26L524.20,829.30L525.60,823.76L530.20,804.01L534.10,788.28L539.30,765.86L541.20,758.67L543.10,752.65L544.90,747.77L546.70,743.63L548.80,739.55L550.70,736.55L552.60,734.24L554.20,732.90L555.20,732.36L556.30,731.95L557.40,731.69L558.30,731.61L559.90,731.90L561.70,732.84L563.30,734.23L565.00,736.29L566.70,738.90L568.50,742.23L570.40,746.21L572.20,750.52L574.80,757.50L577.00,764.14L578.40,768.98L581.20,779.79L582.80,785.46L589.20,806.21L592.70,816.92L605.00,850.75L610.10,863.54L612.70,869.34L615.70,874.88L620.80,883.53L624.10,888.30L627.20,892.07L629.20,894.18L631.30,896.17L634.00,898.48L636.20,900.18L637.80,901.22L639.60,902.19L641.80,903.19L644.10,904.07L649.20,905.53L654.00,906.53L660.60,907.24L666.40,907.57L671.90,907.54L679.00,907.24L696.50,906.22L703.80,905.51L707.50,904.89L711.60,903.99L715.20,903.04L718.00,902.07L726.10,898.47L739.40,891.54L744.30,889.56L747.00,888.67L748.60,888.35L750.30,888.22L759.30,888.40L767.10,888.23L769.10,887.79L773.70,886.04L777.00,884.94L778.80,884.46L781.90,884.10L787.80,883.92L789.50,884.05L791.10,884.39L796.50,886.29L799.10,887.36L806.90,890.93L813.90,893.92L820.40,896.42L830.20,899.92L834.10,901.02L839.60,902.24L843.30,902.85L848.30,903.40L851.70,903.68L854.60,903.79L874.70,903.77L877.40,903.50L883.30,902.47L889.00,901.80L893.20,901.46L896.60,901.44L900.60,901.79L906.20,902.64L921.30,906.55L924.00,907.08L928.60,907.73L931.60,908.02L934.10,908.07L936.20,907.92L942.10,907.17L944.20,907.12L947.00,907.26L952.90,907.83L968.30,910.31L974.00,910.94L995.80,911.47L1013.50,912.52L1020.30,912.78L1080.50,912.80" fill="none" stroke="#2b2f9a" stroke-width="3.00" stroke-linejoin="round" stroke-linecap="round"/>
<text x="557.5" y="1012.2" font-size="24.30" font-weight="bold" fill="#000" text-anchor="start" textLength="146.0" lengthAdjust="spacingAndGlyphs">Volume (mL)</text>
</svg></body></html>
